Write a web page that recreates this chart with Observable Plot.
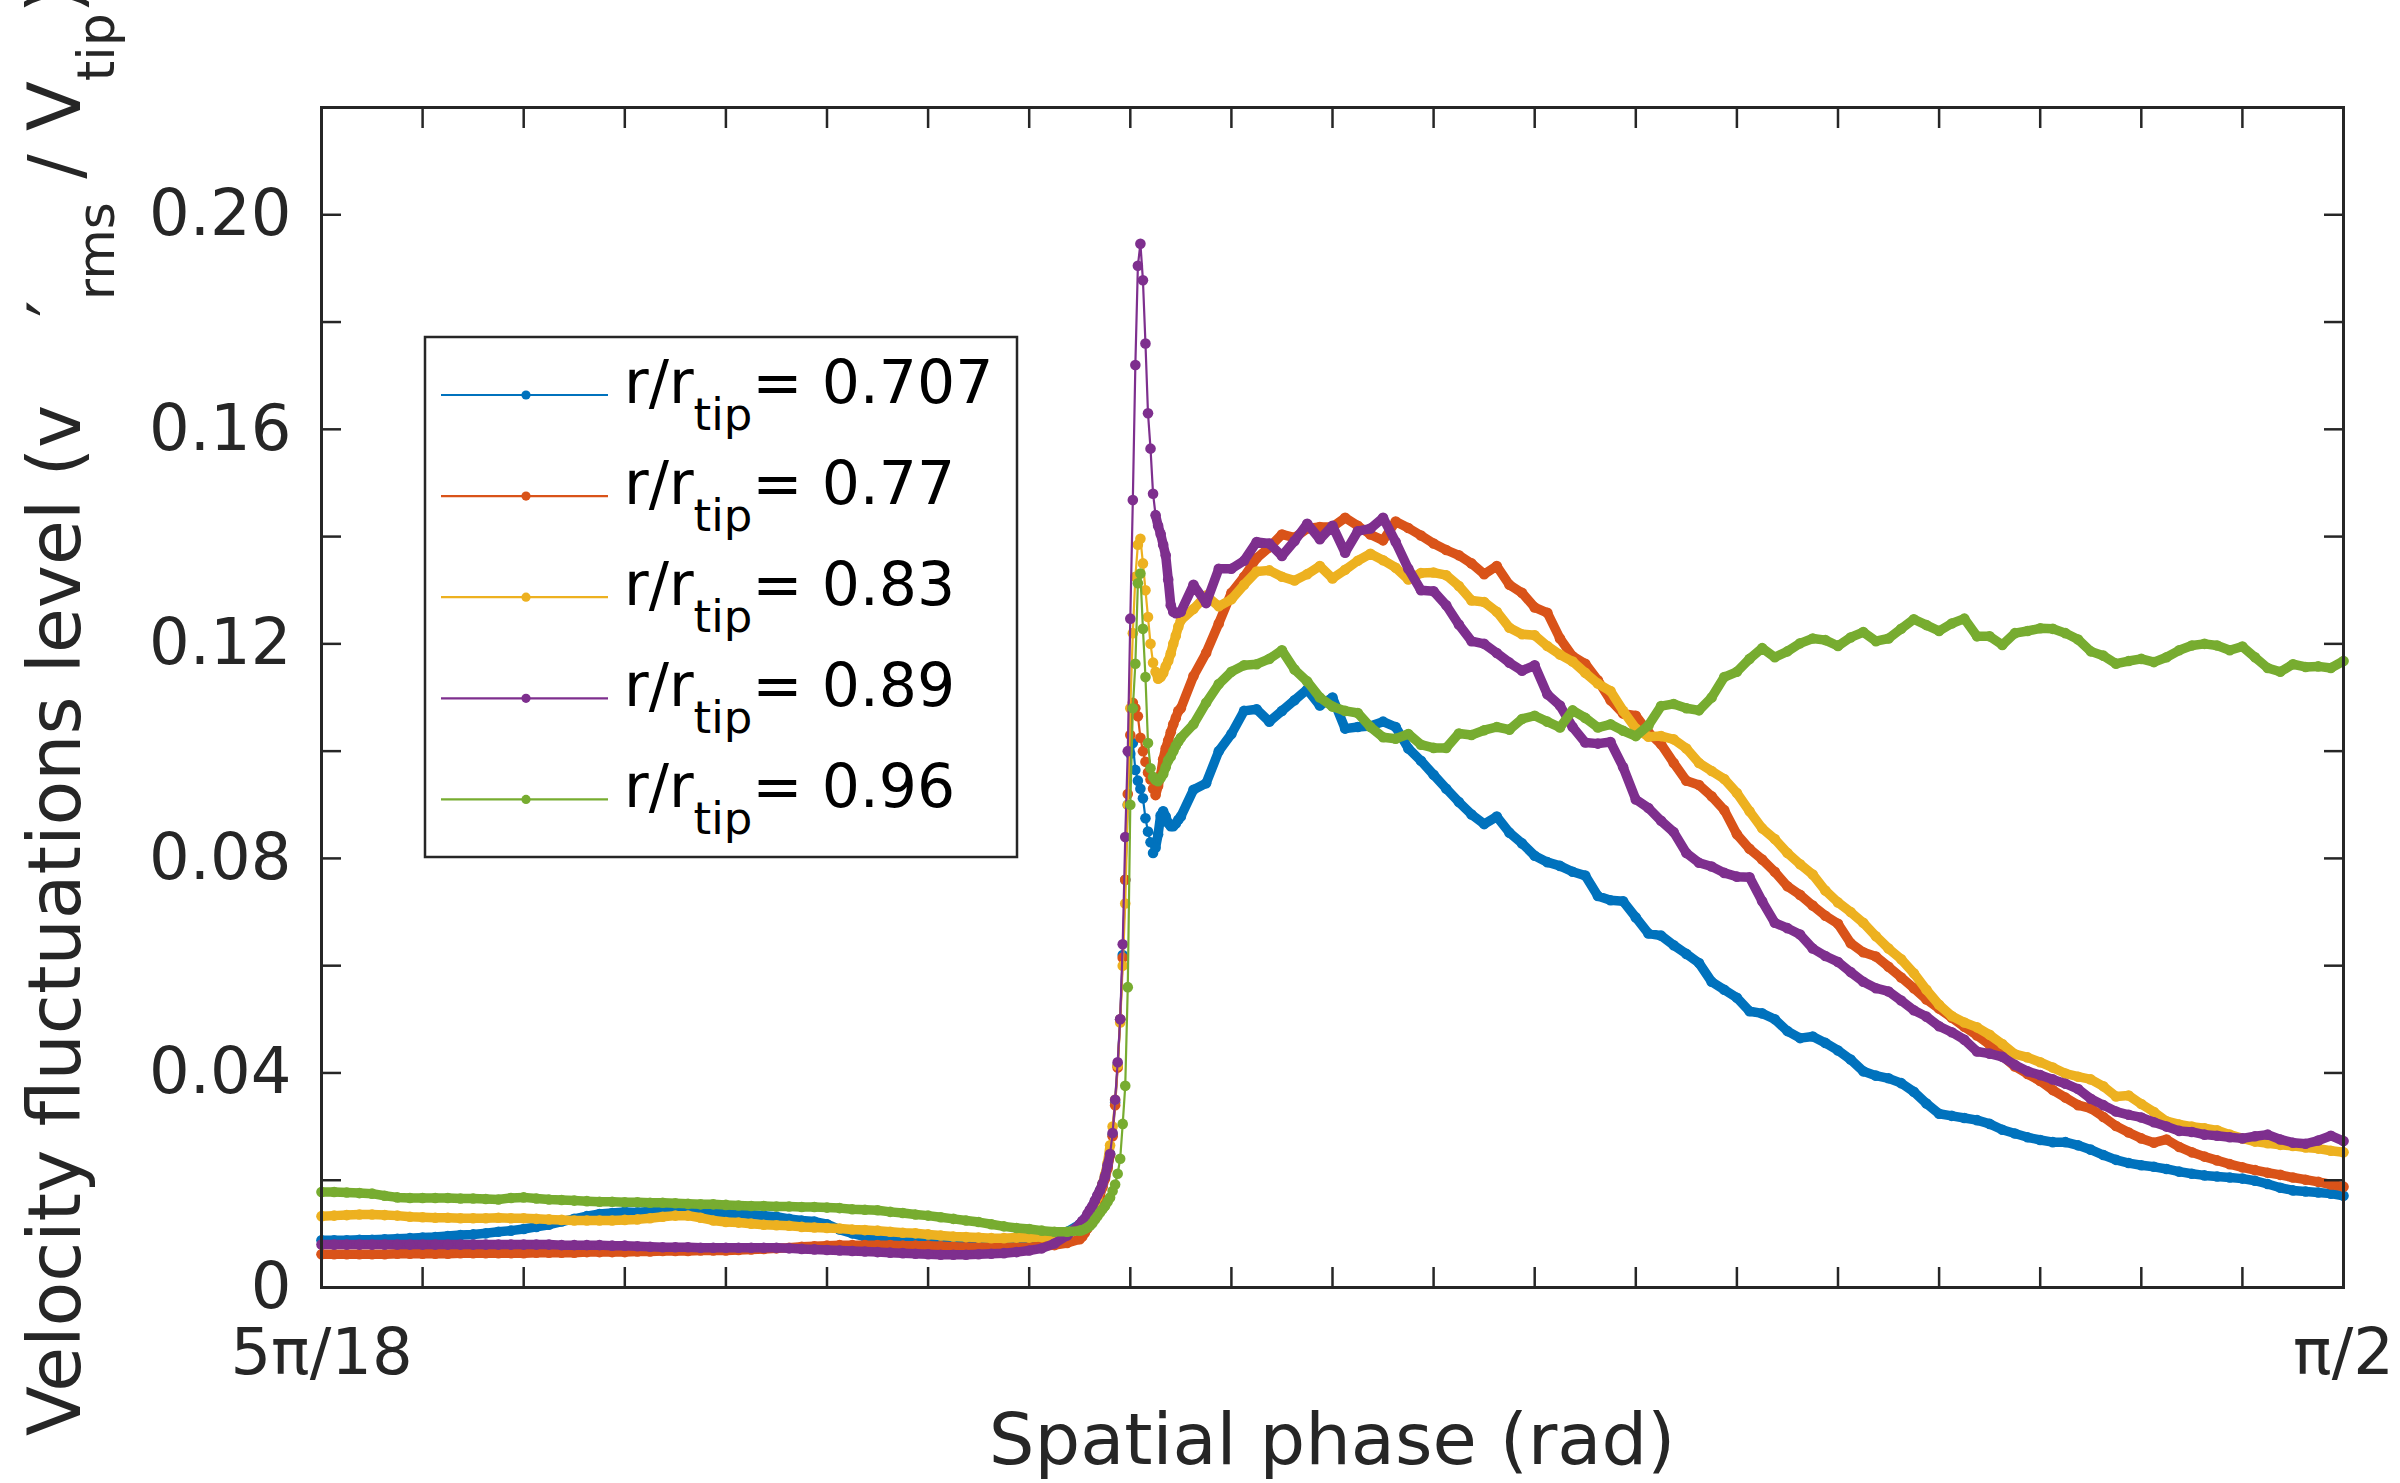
<!DOCTYPE html>
<html>
<head>
<meta charset="utf-8">
<script src="https://cdn.jsdelivr.net/npm/d3@7"></script>
<script src="https://cdn.jsdelivr.net/npm/@observablehq/plot@0.6"></script>
<style>
  html, body { margin: 0; padding: 0; background: #fff; overflow: hidden; }
  #chart svg { display: block; }
</style>
</head>
<body>
<div id="chart"></div>
<script>
// Phase samples in degrees: 0.25° steps on both plateaus, 0.05° steps across the wake spike (65°–67°)
const phaseDeg = [
  ...d3.range(0, 60).map(i => +(50 + i * 0.25).toFixed(2)),
  ...d3.range(0, 40).map(i => +(65 + i * 0.05).toFixed(2)),
  ...d3.range(0, 93).map(i => +(67 + i * 0.25).toFixed(2))
];

// v'rms / Vtip at r/rtip = 0.707
const v0707 = [
  0.0088,0.0088,0.0088,0.0089,0.0089,0.0090,0.0091,0.0092,0.0093,0.0094,
  0.0096,0.0098,0.0099,0.0101,0.0104,0.0106,0.0109,0.0113,0.0117,0.0123,
  0.0128,0.0133,0.0137,0.0139,0.0141,0.0140,0.0142,0.0144,0.0144,0.0143,
  0.0142,0.0140,0.0139,0.0138,0.0136,0.0134,0.0132,0.0128,0.0125,0.0123,
  0.0118,0.0108,0.0101,0.0095,0.0093,0.0092,0.0092,0.0091,0.0091,0.0090,
  0.0088,0.0086,0.0085,0.0085,0.0086,0.0088,0.0090,0.0093,0.0097,0.0104,
  // spike
  0.0118,0.0123,0.0128,0.0134,0.0141,0.0150,0.0160,0.0170,0.0181,0.0193,
  0.0207,0.0225,0.0249,0.0285,0.0345,0.0415,0.0500,0.0620,0.0760,0.0900,
  0.0995,0.1015,0.0965,0.0945,0.0930,0.0912,0.0875,0.0850,0.0830,0.0810,
  0.0820,0.0845,0.0880,0.0888,0.0878,0.0866,0.0860,0.0860,0.0865,0.0872,
  // 67°–90°
  0.0878,0.0928,0.0940,0.1000,0.1032,0.1075,0.1078,0.1055,0.1075,0.1095,
  0.1115,0.1085,0.1100,0.1042,0.1045,0.1047,0.1055,0.1045,0.1005,0.0982,
  0.0956,0.0930,0.0905,0.0882,0.0864,0.0878,0.0848,0.0828,0.0805,0.0793,
  0.0786,0.0775,0.0768,0.0730,0.0722,0.0720,0.0690,0.0660,0.0656,0.0638,
  0.0622,0.0605,0.0570,0.0555,0.0540,0.0515,0.0511,0.0500,0.0478,0.0465,
  0.0468,0.0456,0.0442,0.0425,0.0403,0.0395,0.0390,0.0381,0.0365,0.0343,
  0.0324,0.0320,0.0316,0.0312,0.0305,0.0294,0.0287,0.0280,0.0275,0.0271,
  0.0271,0.0265,0.0257,0.0247,0.0238,0.0232,0.0228,0.0225,0.0221,0.0216,
  0.0212,0.0209,0.0207,0.0205,0.0203,0.0199,0.0193,0.0186,0.0181,0.0179,
  0.0177,0.0175,0.0171
];

// r/rtip = 0.77
const v077 = [
  0.0062,0.0062,0.0062,0.0062,0.0062,0.0062,0.0063,0.0063,0.0063,0.0063,
  0.0063,0.0064,0.0064,0.0064,0.0064,0.0064,0.0064,0.0065,0.0065,0.0065,
  0.0065,0.0066,0.0066,0.0066,0.0066,0.0067,0.0067,0.0068,0.0068,0.0068,
  0.0069,0.0069,0.0069,0.0070,0.0071,0.0072,0.0073,0.0074,0.0076,0.0077,
  0.0078,0.0079,0.0079,0.0079,0.0079,0.0079,0.0078,0.0078,0.0078,0.0077,
  0.0076,0.0075,0.0075,0.0075,0.0075,0.0075,0.0075,0.0077,0.0079,0.0083,
  0.0090,0.0095,0.0102,0.0110,0.0120,0.0132,0.0145,0.0158,0.0172,0.0187,
  0.0203,0.0222,0.0247,0.0282,0.0340,0.0410,0.0500,0.0615,0.0760,0.0920,
  0.1030,0.1090,0.1080,0.1065,0.1025,0.1000,0.0980,0.0960,0.0947,0.0930,
  0.0918,0.0935,0.0955,0.0985,0.1005,0.1020,0.1035,0.1050,0.1062,0.1075,
  0.1080,0.1140,0.1183,0.1238,0.1295,0.1325,0.1360,0.1380,0.1404,0.1398,
  0.1415,0.1418,0.1418,0.1435,0.1420,0.1404,0.1393,0.1428,0.1416,0.1402,
  0.1387,0.1375,0.1365,0.1350,0.1330,0.1345,0.1310,0.1295,0.1268,0.1258,
  0.1210,0.1177,0.1163,0.1132,0.1095,0.1070,0.1066,0.1035,0.1013,0.0978,
  0.0945,0.0937,0.0916,0.0890,0.0845,0.0818,0.0798,0.0775,0.0748,0.0732,
  0.0712,0.0693,0.0678,0.0642,0.0625,0.0617,0.0598,0.0578,0.0558,0.0537,
  0.0520,0.0503,0.0486,0.0470,0.0453,0.0432,0.0412,0.0398,0.0385,0.0368,
  0.0354,0.0340,0.0334,0.0318,0.0301,0.0289,0.0278,0.0270,0.0276,0.0262,
  0.0252,0.0244,0.0237,0.0230,0.0224,0.0219,0.0214,0.0210,0.0205,0.0201,
  0.0197,0.0192,0.0188
];

// r/rtip = 0.83
const v083 = [
  0.0133,0.0134,0.0135,0.0136,0.0136,0.0135,0.0134,0.0132,0.0131,0.0130,
  0.0130,0.0129,0.0129,0.0129,0.0130,0.0129,0.0129,0.0128,0.0127,0.0126,
  0.0125,0.0125,0.0125,0.0125,0.0126,0.0127,0.0129,0.0132,0.0134,0.0134,
  0.0130,0.0125,0.0122,0.0121,0.0119,0.0117,0.0116,0.0115,0.0113,0.0112,
  0.0111,0.0110,0.0108,0.0107,0.0106,0.0104,0.0102,0.0101,0.0099,0.0097,
  0.0095,0.0094,0.0093,0.0092,0.0092,0.0093,0.0093,0.0094,0.0096,0.0102,
  0.0113,0.0118,0.0124,0.0130,0.0138,0.0147,0.0157,0.0168,0.0180,0.0193,
  0.0210,0.0232,0.0265,0.0300,0.0350,0.0414,0.0494,0.0600,0.0716,0.0900,
  0.1080,0.1220,0.1325,0.1385,0.1396,0.1350,0.1300,0.1250,0.1200,0.1165,
  0.1148,0.1135,0.1138,0.1145,0.1158,0.1168,0.1182,0.1200,0.1215,0.1232,
  0.1244,0.1265,0.1290,0.1270,0.1283,0.1310,0.1335,0.1337,0.1325,0.1318,
  0.1330,0.1345,0.1322,0.1338,0.1355,0.1368,0.1356,0.1342,0.1320,0.1332,
  0.1333,0.1328,0.1308,0.1281,0.1278,0.1260,0.1230,0.1218,0.1216,0.1196,
  0.1180,0.1167,0.1146,0.1126,0.1112,0.1075,0.1042,0.1027,0.1028,0.1022,
  0.1005,0.0978,0.0963,0.0948,0.0922,0.0888,0.0856,0.0836,0.0810,0.0789,
  0.0770,0.0740,0.0718,0.0700,0.0680,0.0655,0.0632,0.0612,0.0586,0.0555,
  0.0527,0.0506,0.0494,0.0485,0.0471,0.0454,0.0435,0.0429,0.0420,0.0410,
  0.0399,0.0393,0.0388,0.0375,0.0356,0.0358,0.0342,0.0327,0.0310,0.0304,
  0.0300,0.0297,0.0293,0.0285,0.0278,0.0272,0.0269,0.0266,0.0264,0.0261,
  0.0259,0.0255,0.0252
];

// r/rtip = 0.89
const v089 = [
  0.0080,0.0080,0.0080,0.0080,0.0080,0.0080,0.0080,0.0080,0.0080,0.0080,
  0.0080,0.0080,0.0080,0.0080,0.0080,0.0080,0.0080,0.0080,0.0080,0.0079,
  0.0079,0.0079,0.0079,0.0078,0.0078,0.0077,0.0076,0.0075,0.0075,0.0075,
  0.0074,0.0074,0.0074,0.0074,0.0074,0.0074,0.0074,0.0073,0.0072,0.0071,
  0.0070,0.0069,0.0068,0.0067,0.0066,0.0065,0.0064,0.0063,0.0062,0.0061,
  0.0061,0.0061,0.0062,0.0063,0.0064,0.0066,0.0069,0.0073,0.0082,0.0097,
  0.0118,0.0124,0.0128,0.0137,0.0145,0.0152,0.0162,0.0172,0.0181,0.0193,
  0.0207,0.0228,0.0249,0.0288,0.0350,0.0420,0.0500,0.0640,0.0840,0.1000,
  0.1247,0.1468,0.1720,0.1905,0.1946,0.1878,0.1760,0.1630,0.1564,0.1480,
  0.1440,0.1420,0.1405,0.1385,0.1365,0.1320,0.1272,0.1260,0.1257,0.1258,
  0.1260,0.1310,0.1276,0.1340,0.1340,0.1355,0.1390,0.1387,0.1364,0.1392,
  0.1424,0.1395,0.1420,0.1370,0.1410,0.1415,0.1435,0.1390,0.1340,0.1300,
  0.1298,0.1272,0.1236,0.1205,0.1200,0.1183,0.1165,0.1150,0.1160,0.1106,
  0.1085,0.1045,0.1016,0.1014,0.1017,0.0970,0.0910,0.0894,0.0870,0.0849,
  0.0810,0.0792,0.0785,0.0773,0.0766,0.0765,0.0720,0.0680,0.0670,0.0658,
  0.0632,0.0618,0.0607,0.0588,0.0570,0.0558,0.0552,0.0535,0.0517,0.0505,
  0.0487,0.0476,0.0462,0.0440,0.0436,0.0430,0.0415,0.0403,0.0396,0.0388,
  0.0380,0.0370,0.0352,0.0340,0.0328,0.0322,0.0317,0.0308,0.0300,0.0292,
  0.0290,0.0285,0.0283,0.0280,0.0278,0.0282,0.0285,0.0276,0.0270,0.0268,
  0.0274,0.0283,0.0273
];

// r/rtip = 0.96
const v096 = [
  0.0178,0.0178,0.0177,0.0176,0.0175,0.0171,0.0168,0.0167,0.0167,0.0167,
  0.0167,0.0166,0.0166,0.0165,0.0164,0.0167,0.0168,0.0166,0.0164,0.0163,
  0.0162,0.0161,0.0160,0.0160,0.0159,0.0159,0.0158,0.0158,0.0157,0.0156,
  0.0155,0.0155,0.0154,0.0153,0.0152,0.0152,0.0151,0.0151,0.0150,0.0150,
  0.0149,0.0148,0.0146,0.0145,0.0144,0.0141,0.0139,0.0136,0.0134,0.0131,
  0.0128,0.0125,0.0122,0.0118,0.0114,0.0111,0.0109,0.0106,0.0104,0.0104,
  0.0106,0.0107,0.0109,0.0112,0.0115,0.0120,0.0127,0.0133,0.0140,0.0146,
  0.0152,0.0160,0.0168,0.0180,0.0192,0.0212,0.0240,0.0305,0.0376,0.0560,
  0.0900,0.1080,0.1163,0.1313,0.1331,0.1228,0.1138,0.1015,0.0968,0.0952,
  0.0946,0.0944,0.0950,0.0957,0.0970,0.0983,0.0990,0.1000,0.1010,0.1018,
  0.1025,0.1050,0.1090,0.1125,0.1148,0.1160,0.1162,0.1172,0.1188,0.1152,
  0.1130,0.1100,0.1083,0.1075,0.1071,0.1045,0.1026,0.1023,0.1032,0.1012,
  0.1006,0.1006,0.1033,0.1030,0.1039,0.1045,0.1040,0.1060,0.1066,0.1055,
  0.1044,0.1076,0.1062,0.1044,0.1050,0.1038,0.1028,0.1048,0.1084,0.1088,
  0.1080,0.1076,0.1100,0.1138,0.1148,0.1172,0.1192,0.1175,0.1186,0.1201,
  0.1210,0.1207,0.1196,0.1212,0.1222,0.1205,0.1210,0.1228,0.1246,0.1235,
  0.1224,0.1238,0.1247,0.1214,0.1214,0.1198,0.1220,0.1224,0.1229,0.1228,
  0.1220,0.1208,0.1186,0.1178,0.1163,0.1168,0.1172,0.1166,0.1175,0.1188,
  0.1197,0.1200,0.1197,0.1188,0.1195,0.1175,0.1155,0.1148,0.1162,0.1157,
  0.1158,0.1155,0.1168
];

const radiusLabels = ["0.707", "0.77", "0.83", "0.89", "0.96"];
const seriesValues = [v0707, v077, v083, v089, v096];
const seriesColors = ["#0072BD", "#D95319", "#EDB120", "#7E2F8E", "#77AC30"];

// Axis ticks: every 2° in phase, every 0.02 in level; labelled ones listed separately
const xMinorTicks = [50,52,54,56,58,60,62,64,66,68,70,72,74,76,78,80,82,84,86,88,90];
const xLabelTicks = [50, 90];
const xTickLabels = ["5π/18", "π/2"];
const yMinorTicks = [0,0.02,0.04,0.06,0.08,0.10,0.12,0.14,0.16,0.18,0.20,0.22];
const yLabelTicks = [0, 0.04, 0.08, 0.12, 0.16, 0.20];

const ink = "#262626";

const seriesRows = seriesValues.map((vals, k) =>
  phaseDeg.map((p, i) => ({phase: p, level: vals[i], radius: radiusLabels[k]}))
);

// Where samples are packed tightly the markers merge into a solid band;
// across the steep spike they separate, leaving only the thin connecting line.
const sparseMarkers = p => p > 65.62 && p < 66.48;

const dataMarks = seriesRows.flatMap((rows, k) => [
  Plot.line(rows, {
    x: "phase", y: d => sparseMarkers(d.phase) ? NaN : d.level,
    stroke: seriesColors[k], strokeWidth: 9.5, strokeLinejoin: "round", strokeLinecap: "round"
  }),
  Plot.line(rows, {x: "phase", y: "level", stroke: seriesColors[k], strokeWidth: 2.2}),
  Plot.dot(rows, {x: "phase", y: "level", r: 5.3, fill: seriesColors[k], stroke: "none"})
]);

const chart = Plot.plot({
  width: 2400,
  height: 1483,
  marginLeft: 321,
  marginRight: 57,
  marginTop: 107,
  marginBottom: 196,
  style: {fontFamily: "'DejaVu Sans', sans-serif", fontSize: "64px", color: ink, background: "#fff"},
  x: {domain: [50, 90]},
  y: {domain: [0, 0.22]},
  marks: [
    ...dataMarks,
    Plot.axisX({anchor: "bottom", ticks: xMinorTicks, tickSize: -20, tickFormat: () => "", strokeWidth: 2.5, label: null}),
    Plot.axisX({anchor: "top", ticks: xMinorTicks, tickSize: -20, tickFormat: () => "", strokeWidth: 2.5, label: null}),
    Plot.axisY({anchor: "left", ticks: yMinorTicks, tickSize: -20, tickFormat: () => "", strokeWidth: 2.5, label: null}),
    Plot.axisY({anchor: "right", ticks: yMinorTicks, tickSize: -20, tickFormat: () => "", strokeWidth: 2.5, label: null}),
    Plot.axisX({anchor: "bottom", ticks: xLabelTicks, tickSize: 0, tickPadding: 41,
      tickFormat: d => xTickLabels[xLabelTicks.indexOf(d)], fontSize: 64, label: null}),
    Plot.axisY({anchor: "left", ticks: yLabelTicks, tickSize: 0, tickPadding: 30,
      tickFormat: d => d === 0 ? "0" : d.toFixed(2), fontSize: 64, label: null}),
    Plot.frame({stroke: ink, strokeWidth: 3})
  ]
});

document.getElementById("chart").appendChild(chart);

const svg = d3.select(chart);

// Axis titles
svg.append("text")
  .attr("x", 1332).attr("y", 1464)
  .attr("text-anchor", "middle")
  .attr("font-size", 72).attr("fill", ink)
  .text("Spatial phase (rad)");

const yTitle = svg.append("text")
  .attr("transform", "translate(80,1436) rotate(-90)")
  .attr("text-anchor", "start")
  .attr("font-size", 73).attr("fill", ink);
yTitle.append("tspan").text("Velocity fluctuations level (v");
yTitle.append("tspan").attr("dx", 88).text("′");
yTitle.append("tspan").attr("font-size", 52).attr("dy", 34).text("rms");
yTitle.append("tspan").attr("dy", -34).text(" / V");
yTitle.append("tspan").attr("font-size", 52).attr("dy", 34).text("tip");
yTitle.append("tspan").attr("dy", -34).text(")");

// Legend box
const legend = svg.append("g").attr("text-anchor", "start");
legend.append("rect")
  .attr("x", 425).attr("y", 337).attr("width", 592).attr("height", 520)
  .attr("fill", "#fff").attr("stroke", ink).attr("stroke-width", 2.5);

radiusLabels.forEach((lab, k) => {
  const cy = 395 + k * 101.1;
  legend.append("line")
    .attr("x1", 441).attr("x2", 608).attr("y1", cy).attr("y2", cy)
    .attr("stroke", seriesColors[k]).attr("stroke-width", 2.2);
  legend.append("circle")
    .attr("cx", 526).attr("cy", cy).attr("r", 4.6)
    .attr("fill", seriesColors[k]);
  const t = legend.append("text")
    .attr("x", 624).attr("y", cy + 8)
    .attr("text-anchor", "start")
    .attr("font-size", 60).attr("fill", "#000");
  t.append("tspan").text("r/r");
  t.append("tspan").attr("font-size", 45).attr("dy", 27).text("tip");
  t.append("tspan").attr("dy", -27).text("= " + lab);
});
</script>
</body>
</html>
